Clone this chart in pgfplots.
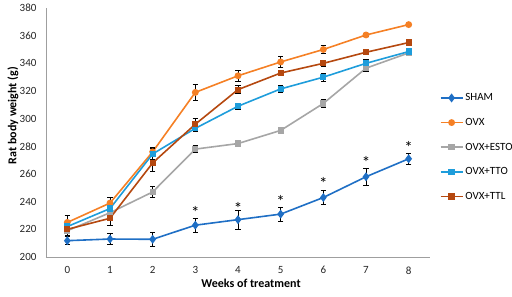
\documentclass[border=0pt]{standalone}
\usepackage{pgfplots}
\pgfplotsset{compat=1.18}
\usetikzlibrary{plotmarks}
\usepackage{fontspec}
\setmainfont{Carlito}
\definecolor{cSHAM}{HTML}{1F6FC5}
\definecolor{cOVX}{HTML}{F58025}
\definecolor{cESTO}{HTML}{A6A6A6}
\definecolor{cTTO}{HTML}{1E9DDB}
\definecolor{cTTL}{HTML}{B5480F}
\begin{document}
\begin{tikzpicture}[x=1pt,y=1pt]
\useasboundingbox (0,0) rectangle (512,297);
\begin{axis}[
  at={(46pt,40pt)}, anchor=south west,
  scale only axis, width=384pt, height=249pt,
  xmin=-0.5, xmax=8.5, ymin=200, ymax=380,
  xtick={0,...,8}, ytick={200,220,...,380},
  axis x line*=bottom, axis y line*=left,
  axis line style={-, draw=gray!75, line width=0.8pt},
  major tick length=0pt,
  tick label style={font=\fontsize{11}{13}\selectfont, text=black!85},
  /pgf/number format/assume math mode=true,
  xticklabel style={yshift=-6pt},
  yticklabel style={xshift=-6pt},
  xlabel={\textbf{Weeks of treatment}},
  ylabel={\textbf{Rat body weight (g)}},
  label style={font=\fontsize{12}{14}\selectfont},
  xlabel style={at={(axis description cs:0.534,0)}, anchor=center, yshift=-26pt},
  ylabel style={at={(axis description cs:-0.086,0.568)}, anchor=center},
  clip=false,
  legend style={at={(1.025,0.665)}, anchor=north west, draw=none, fill=none,
    font=\fontsize{11}{13}\selectfont, row sep=12pt, inner sep=0pt},
  legend cell align=left,
  legend image code/.code={
    \draw[#1, mark=none] (0pt,0pt) -- (22pt,0pt);
    \draw[#1, only marks] plot coordinates {(11pt,0pt)};
  },
  every axis plot/.append style={line width=1.6pt, mark size=2.6pt,
    error bars/error bar style={black, line width=0.7pt},
    error bars/error mark options={black, rotate=90, mark size=2.6pt, line width=0.7pt}},
]
\addplot[cSHAM, mark=diamond*, mark size=3.2pt, error bars/.cd, y dir=both, y explicit]
 table[x=x, y=y, y error=e] {
x y e
0 211.8 3
1 213 4
2 212.8 5
3 223 5
4 227 7
5 231 5
6 243 5
7 258 6
8 271 4
};
\addlegendentry{SHAM}
\addplot[cOVX, mark=*, error bars/.cd, y dir=both, y explicit]
 table[x=x, y=y, y error=e] {
x y e
0 225 5
1 239 4
2 276 3
3 319 6
4 331 4
5 341 4
6 350 3
7 360.5 1
8 368 1
};
\addlegendentry{OVX}
\addplot[cESTO, mark=square*, mark size=2.3pt, error bars/.cd, y dir=both, y explicit]
 table[x=x, y=y, y error=e] {
x y e
0 219 3
1 232 3
2 247 4
3 278 2.5
4 282 2
5 291.5 2
6 311 3
7 336.5 2
8 347.5 1
};
\addlegendentry{OVX+ESTO}
\addplot[cTTO, mark=square*, mark size=2.3pt, error bars/.cd, y dir=both, y explicit]
 table[x=x, y=y, y error=e] {
x y e
0 222 3
1 235 3
2 274.5 4
3 293 2
4 309 2
5 321.5 2.5
6 330 3
7 340 3
8 348.5 1
};
\addlegendentry{OVX+TTO}
\addplot[cTTL, mark=square*, mark size=2.3pt, error bars/.cd, y dir=both, y explicit]
 table[x=x, y=y, y error=e] {
x y e
0 220 2
1 228 5
2 268 6
3 296 4
4 321 3
5 333 2
6 340 2
7 348 1
8 355 1
};
\addlegendentry{OVX+TTL}
\addplot[forget plot, only marks, mark=text, black!85,
  text mark={\fontsize{17}{19}\selectfont *}]
 coordinates {(3,232.5) (4,235) (5,240) (6,253.5) (7,268) (8,279)};
\end{axis}
\end{tikzpicture}
\end{document}
